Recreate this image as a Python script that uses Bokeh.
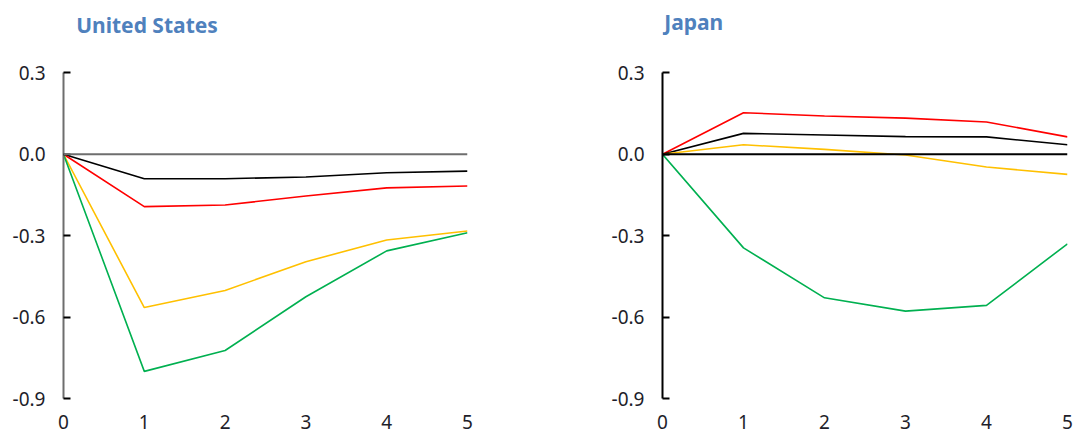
from bokeh.plotting import figure
from bokeh.layouts import row
from bokeh.models import FixedTicker, Span, Range1d, Label
from bokeh.embed import file_html
from bokeh.resources import INLINE

# ---- data ----
years = [0, 1, 2, 3, 4, 5]
x_tick_labels = ["0", "1", "2", "3", "4", "5"]
y_ticks = [-0.9, -0.6, -0.3, 0.0, 0.3]
y_tick_labels = ["-0.9", "-0.6", "-0.3", "0.0", "0.3"]

us_black = [0, -0.090, -0.090, -0.084, -0.068, -0.062]
us_red = [0, -0.193, -0.187, -0.154, -0.124, -0.117]
us_yellow = [0, -0.565, -0.502, -0.396, -0.316, -0.283]
us_green = [0, -0.800, -0.723, -0.525, -0.356, -0.289]

jp_red = [0, 0.153, 0.141, 0.133, 0.119, 0.064]
jp_black = [0, 0.077, 0.071, 0.065, 0.064, 0.035]
jp_yellow = [0, 0.035, 0.018, -0.003, -0.047, -0.074]
jp_green = [0, -0.345, -0.529, -0.578, -0.557, -0.330]

FONT = "Noto Sans"
TITLE_COLOR = "#4f81bd"
LABEL_COLOR = "#1e1e2a"
COLORS = {"black": "#000000", "red": "#ff0000", "yellow": "#ffc000", "green": "#00b050"}

Y_MIN, Y_MAX = -0.9, 0.3
Y_TOP = 0.5666  # headroom above the axis for the panel title


def make_panel(title, series, width, left, right, axis_color, title_x, title_y):
    p = figure(width=width, height=434,
               x_range=Range1d(0, 5), y_range=Range1d(Y_MIN, Y_TOP),
               output_backend="svg", toolbar_location=None,
               min_border_left=left, min_border_right=right,
               min_border_top=0, min_border_bottom=36)
    p.outline_line_color = None
    p.xgrid.visible = False
    p.ygrid.visible = False
    p.background_fill_color = "white"
    p.border_fill_color = "white"

    p.add_layout(Label(x=title_x, y=title_y, text=title, text_align="left",
                       text_baseline="alphabetic", text_font=FONT, text_font_size="21px",
                       text_font_style="bold", text_color=TITLE_COLOR))

    # y axis
    ya = p.yaxis[0]
    ya.bounds = (Y_MIN, Y_MAX)
    ya.ticker = FixedTicker(ticks=y_ticks)
    ya.major_label_overrides = {t: l for t, l in zip(y_ticks, y_tick_labels)}
    ya.axis_line_color = axis_color
    ya.axis_line_width = 2
    ya.major_tick_line_color = "#000000"
    ya.major_tick_line_width = 2
    ya.major_tick_in = 7
    ya.major_tick_out = 0
    ya.minor_tick_line_color = None
    ya.major_label_standoff = 18
    ya.major_label_text_font = FONT
    ya.major_label_text_font_size = "19px"
    ya.major_label_text_color = LABEL_COLOR

    # x axis (labels only)
    xa = p.xaxis[0]
    xa.ticker = FixedTicker(ticks=years)
    xa.major_label_overrides = {t: l for t, l in zip(years, x_tick_labels)}
    xa.axis_line_color = None
    xa.major_tick_line_color = None
    xa.minor_tick_line_color = None
    xa.major_label_standoff = 10
    xa.major_label_text_font = FONT
    xa.major_label_text_font_size = "19px"
    xa.major_label_text_color = LABEL_COLOR

    p.add_layout(Span(location=0, dimension="width", line_color=axis_color, line_width=2))

    for name, ys in series:
        p.line(years, ys, line_color=COLORS[name], line_width=1.6)
    return p


p1 = make_panel("United States",
                [("black", us_black), ("red", us_red), ("yellow", us_yellow), ("green", us_green)],
                width=540, left=63, right=73, axis_color="#6e6e6e", title_x=0.157, title_y=0.477)
p2 = make_panel("Japan",
                [("red", jp_red), ("black", jp_black), ("yellow", jp_yellow), ("green", jp_green)],
                width=537, left=122, right=10, axis_color="#000000", title_x=0.021, title_y=0.488)

layout = row(p1, p2)
open("out.html", "w").write(file_html(layout, INLINE))
